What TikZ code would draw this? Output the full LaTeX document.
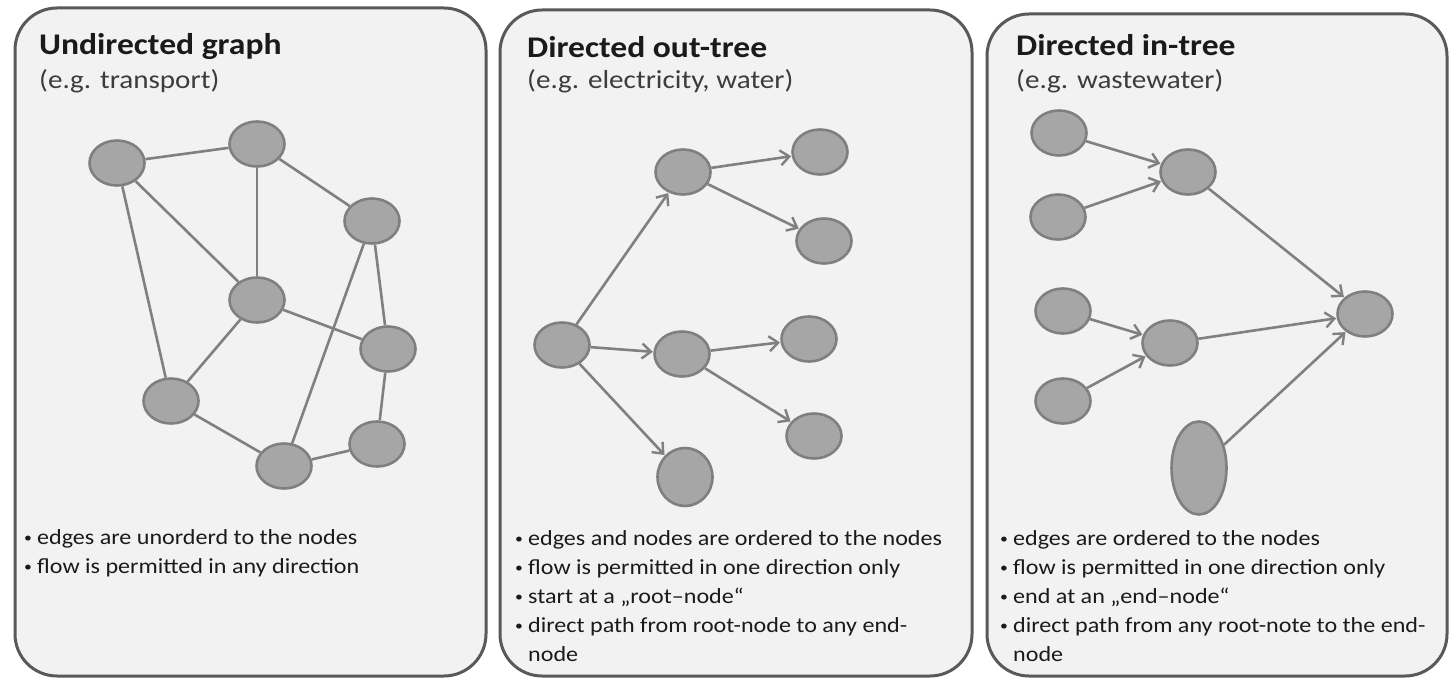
\documentclass[tikz,border=0pt]{standalone}
\usepackage{fontspec}
\setmainfont[FakeStretch=1.12]{Carlito}
\usepackage{tikz}
\usetikzlibrary{arrows.meta,shapes.geometric}
\definecolor{panelbg}{HTML}{F2F2F2}
\definecolor{panelline}{HTML}{595959}
\definecolor{nodefill}{HTML}{A6A6A6}
\definecolor{nodeline}{HTML}{7F7F7F}
\definecolor{edgec}{HTML}{808080}
\definecolor{textc}{HTML}{1A1A1A}
\newcommand{\bul}{\makebox[13pt][l]{\raisebox{1.5pt}{\fontsize{14}{14}\selectfont\textbullet}}}

\begin{document}
\begin{tikzpicture}[x=1pt,y=-1pt,
    panel/.style={draw=panelline,fill=panelbg,line width=3pt,rounded corners=42pt},
    vert/.style={ellipse,draw=nodeline,fill=nodefill,line width=2.6pt,minimum width=55pt,minimum height=45pt,inner sep=0pt},
    edge/.style={draw=edgec,line width=2.6pt},
    flow/.style={edge,-{Straight Barb[length=9pt,width=15pt,line width=2.4pt]},shorten >=0.5pt},
    title/.style={anchor=west,inner sep=0pt,text=textc,font=\fontsize{30}{34}\selectfont\bfseries},
    sub/.style={anchor=west,inner sep=0pt,text=textc!85,font=\fontsize{26}{30}\selectfont},
    notes/.style={anchor=north west,inner sep=0pt,align=left,text=textc,font=\fontsize{21.5}{29}\selectfont}]
        \useasboundingbox (0,0) rectangle (1450,679);
        \fill[white] (0,0) rectangle (1450,679);
        \draw[panel] (15,8) rectangle (486,676);
        \draw[panel] (500,10) rectangle (972,676);
        \draw[panel] (987,14) rectangle (1447,676);
        % undirected graph
        \node[title] (t1) at (39,47) {Undirected graph};
        \node[sub] (s1) at (39,81) {(e.g. transport)};
        \node[vert] (a) at (117,163) {};
        \node[vert] (b) at (257,144) {};
        \node[vert] (c) at (372,221) {};
        \node[vert] (d) at (257,300) {};
        \node[vert] (e) at (388,349) {};
        \node[vert] (f) at (171,401) {};
        \node[vert] (g) at (284,466) {};
        \node[vert] (h) at (377,444) {};
        \foreach \u/\v in {a/b,a/d,a/f,b/d,b/c,c/e,c/g,d/e,d/f,e/h,f/g,g/h}
          \draw[edge] (\u) -- (\v);
        \node[notes] (n1) at (24,529) {\bul edges are unorderd to the nodes\\
          \bul flow is permitted in any direction};
        % out-tree
        \node[title] (t2) at (527,47) {Directed out-tree};
        \node[sub] (s2) at (527,81) {(e.g. electricity, water)};
        \node[vert] (root) at (562,345) {};
        \node[vert] (m1) at (683,172) {};
        \node[vert] (m2) at (682,354) {};
        \node[vert] (o1) at (820,152) {};
        \node[vert] (o2) at (824,241) {};
        \node[vert] (o3) at (809,339) {};
        \node[vert] (o4) at (814,436) {};
        \node[vert,minimum height=58pt] (o5) at (685,477) {};
        \foreach \u/\v in {root/m1,root/m2,root/o5,m1/o1,m1/o2,m2/o3,m2/o4}
          \draw[flow] (\u) -- (\v);
        \node[notes] (n2) at (515,530) {\bul edges and nodes are ordered to the nodes\\
          \bul flow is permitted in one direction only\\
          \bul start at a „root–node“\\
          \bul direct path from root-node to any end-\\
          \hspace*{13pt}node};
        % in-tree
        \node[title] (t3) at (1016,45) {Directed in-tree};
        \node[sub] (s3) at (1016,81) {(e.g. wastewater)};
        \node[vert] (i1) at (1059,133) {};
        \node[vert] (i2) at (1058,217) {};
        \node[vert] (i3) at (1063,311) {};
        \node[vert] (i4) at (1063,401) {};
        \node[vert] (k1) at (1188,172) {};
        \node[vert] (k2) at (1170,343) {};
        \node[vert,minimum height=93pt] (k3) at (1199,468) {};
        \node[vert] (sink) at (1365,314) {};
        \foreach \u/\v in {i1/k1,i2/k1,i3/k2,i4/k2,k1/sink,k2/sink,k3/sink}
          \draw[flow] (\u) -- (\v);
        \node[notes] (n3) at (1000,530) {\bul edges are ordered to the nodes\\
          \bul flow is permitted in one direction only\\
          \bul end at an „end–node“\\
          \bul direct path from any root-note to the end-\\
          \hspace*{13pt}node};
\end{tikzpicture}
\end{document}
